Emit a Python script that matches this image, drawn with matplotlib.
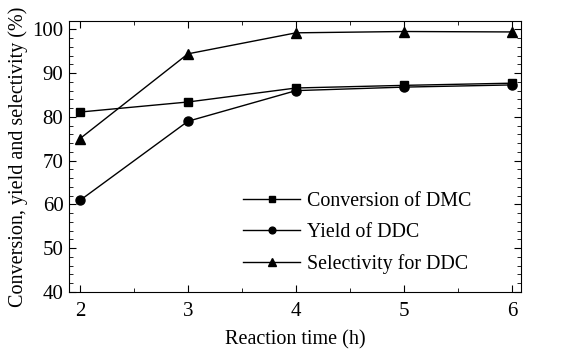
import numpy as np
import matplotlib.pyplot as plt
from matplotlib.ticker import MultipleLocator

plt.rcParams['font.family'] = ['Liberation Serif', 'DejaVu Serif']
plt.rcParams['mathtext.fontset'] = 'stix'

time_h = [2, 3, 4, 5, 6]
conversion = [81.1, 83.4, 86.6, 87.2, 87.7]
yield_ddc = [60.9, 79.0, 86.0, 86.8, 87.3]
selectivity = [75.0, 94.4, 99.2, 99.5, 99.4]

fig = plt.figure(figsize=(5.64, 3.49), dpi=100)
ax = fig.add_axes([69/564, 1-292/349, (521-69)/564, (292-21)/349])

ax.plot(time_h, conversion, color="black", lw=1, marker="s", ms=6, label="Conversion of DMC")
ax.plot(time_h, yield_ddc, color="black", lw=1, marker="o", ms=6.5, label="Yield of DDC")
ax.plot(time_h, selectivity, color="black", lw=1, marker="^", ms=7.5, label="Selectivity for DDC")

ax.set_xlim(1.9, 6.08)
ax.set_ylim(40, 101.9)
ax.xaxis.set_major_locator(MultipleLocator(1))
ax.xaxis.set_minor_locator(MultipleLocator(0.5))
ax.yaxis.set_major_locator(MultipleLocator(10))
ax.yaxis.set_minor_locator(MultipleLocator(2))
ax.tick_params(which="both", direction="in", top=True, right=True, labelsize=15)
ax.tick_params(which="major", length=5, pad=4)
ax.tick_params(which="minor", length=3)
ax.tick_params(axis="x", pad=7)
for s in ax.spines.values():
    s.set_linewidth(0.8)

ax.set_xlabel("Reaction time (h)", fontsize=14.5, labelpad=7)
ax.set_ylabel("Conversion, yield and selectivity (%)", fontsize=14.5, labelpad=3)

ax.legend(loc="upper left", bbox_to_anchor=((243-69)/452, (292-192)/271), frameon=False,
          fontsize=14.4, borderpad=0, borderaxespad=0, markerscale=0.75,
          handlelength=2.85, handletextpad=0.35, labelspacing=0.6)

plt.savefig("out.png", dpi=100)
plt.close()
